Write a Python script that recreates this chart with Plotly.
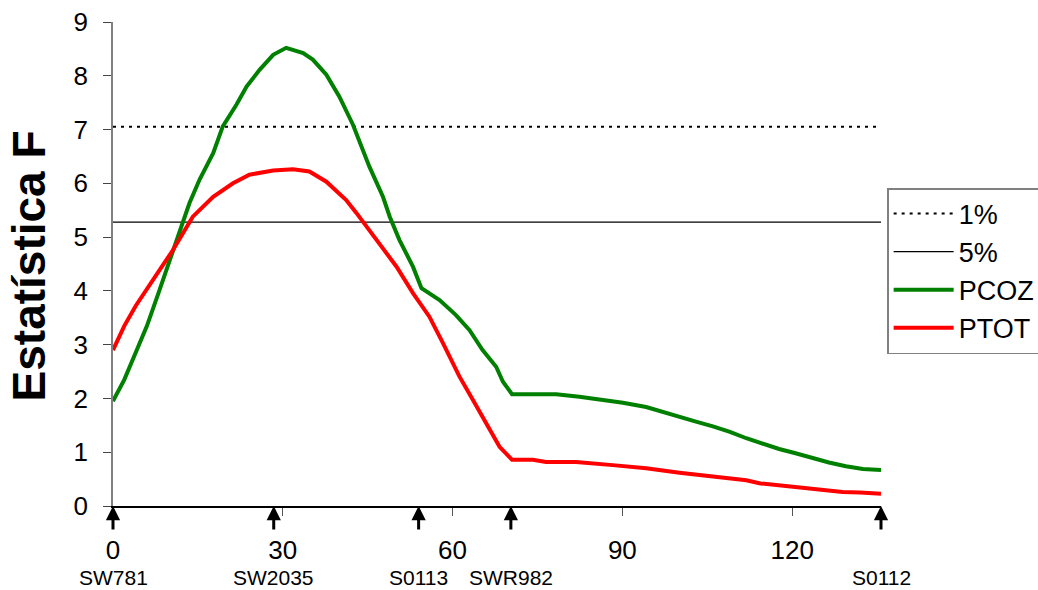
import plotly.graph_objects as go

# Position along the linkage group (cM) and F statistic for each trait
pcoz_pos = [0, 2, 4, 6, 8, 9.4, 11.8, 13.5, 15.3, 17.7, 19.4, 21.8, 23.6, 25.9, 28.3,
            30.6, 33.6, 35.3, 37.7, 40.0, 42.4, 43.6, 45.3, 47.7, 48.9, 50.6, 53.0,
            54.5, 57.7, 60.6, 63.0, 65.3, 67.7, 68.9, 70.5, 74, 78.3, 82.4, 86, 90.1,
            94.2, 97, 100.1, 103, 106.0, 109, 111.9, 114.8, 117.7, 120.6, 123.6,
            126.5, 129.5, 132.5, 135.7]
pcoz_f = [1.95, 2.35, 2.85, 3.35, 3.95, 4.39, 5.15, 5.63, 6.07, 6.56, 7.06, 7.46, 7.80,
          8.11, 8.39, 8.52, 8.42, 8.30, 8.02, 7.61, 7.09, 6.75, 6.31, 5.75, 5.38, 4.95,
          4.45, 4.05, 3.83, 3.55, 3.27, 2.90, 2.59, 2.31, 2.08, 2.08, 2.08, 2.03, 1.98,
          1.92, 1.84, 1.76, 1.66, 1.57, 1.48, 1.38, 1.26, 1.16, 1.06, 0.98, 0.89, 0.81,
          0.74, 0.69, 0.67]

ptot_pos = [0, 2, 4, 6, 8.25, 10.6, 12.4, 14.1, 17.7, 21.2, 24.1, 28.3, 31.8, 34.7,
            37.7, 41.2, 43.0, 44.8, 47.7, 50.1, 53.0, 55.9, 58.3, 61.2, 63.6, 65.9,
            68.3, 70.5, 74.2, 76.5, 81.8, 88.3, 94.2, 100.1, 106.0, 111.9, 114.4, 118,
            122.8, 128.9, 132, 135.7]
ptot_f = [2.90, 3.35, 3.72, 4.05, 4.39, 4.76, 5.07, 5.38, 5.75, 6.00, 6.16, 6.24, 6.26,
          6.22, 6.03, 5.69, 5.45, 5.20, 4.78, 4.45, 3.96, 3.52, 3.03, 2.41, 1.97, 1.54,
          1.10, 0.86, 0.86, 0.82, 0.82, 0.76, 0.70, 0.62, 0.55, 0.48, 0.42, 0.38, 0.32,
          0.26, 0.25, 0.23]

# Significance thresholds
thr_names = ["1%", "5%"]
thr_values = [7.05, 5.28]

# Molecular markers along the group
marker_names = ["SW781", "SW2035", "S0113", "SWR982", "S0112"]
marker_pos = [0, 28.4, 54.0, 70.3, 135.7]

x_end = 135.7
x_ticks = [0, 30, 60, 90, 120]
y_ticks = list(range(0, 10))

FONT = "Liberation Sans, Arial, sans-serif"

fig = go.Figure()

fig.add_trace(go.Scatter(x=[0, x_end], y=[thr_values[0]] * 2, mode="lines",
                         name=thr_names[0],
                         line=dict(color="black", width=2, dash="3px,5px")))
fig.add_trace(go.Scatter(x=[0, x_end], y=[thr_values[1]] * 2, mode="lines",
                         name=thr_names[1],
                         line=dict(color="black", width=1.3)))
fig.add_trace(go.Scatter(x=pcoz_pos, y=pcoz_f, mode="lines", name="PCOZ",
                         line=dict(color="#008000", width=4)))
fig.add_trace(go.Scatter(x=ptot_pos, y=ptot_f, mode="lines", name="PTOT",
                         line=dict(color="#FF0000", width=4)))

annotations = []
for name, pos in zip(marker_names, marker_pos):
    annotations.append(dict(x=pos, y=0, xref="x", yref="y", text="", showarrow=True,
                            ax=0, ay=25, arrowhead=2, arrowsize=0.95, arrowwidth=3,
                            arrowcolor="black", standoff=0))
    annotations.append(dict(x=pos, y=-0.147, xref="x", yref="paper", text=name,
                            showarrow=False, xanchor="center", yanchor="middle",
                            font=dict(family=FONT, size=21, color="black")))

annotations.append(dict(x=-0.11, y=0.496, xref="paper", yref="paper",
                        text="<b>Estatística F</b>", textangle=-90, showarrow=False,
                        xanchor="center", yanchor="middle",
                        font=dict(family=FONT, size=46, color="black")))

fig.update_layout(
    width=1038, height=590,
    margin=dict(l=113, r=157, t=22, b=84, autoexpand=False),
    paper_bgcolor="white", plot_bgcolor="white",
    font=dict(family=FONT, size=26, color="black"),
    showlegend=True,
    legend=dict(x=1.008, y=0.657, xanchor="left", yanchor="top",
                bordercolor="#808080", borderwidth=1.5, bgcolor="white",
                font=dict(family=FONT, size=27, color="black"),
                itemwidth=60, tracegroupgap=0),
    annotations=annotations,
    xaxis=dict(range=[0, x_end], tickvals=x_ticks, ticks="outside", ticklen=8,
               tickcolor="#555555", showline=True, linecolor="black", linewidth=1.5,
               showgrid=False, zeroline=False, tickfont=dict(size=26),
               ticklabelstandoff=12),
    yaxis=dict(range=[0, 9], tickvals=y_ticks, ticks="outside", ticklen=8,
               tickcolor="#444444", showline=True, linecolor="#808080", linewidth=1.5,
               showgrid=False, zeroline=False, tickfont=dict(size=26),
               ticklabelstandoff=10),
)

fig.write_html("out.html")
